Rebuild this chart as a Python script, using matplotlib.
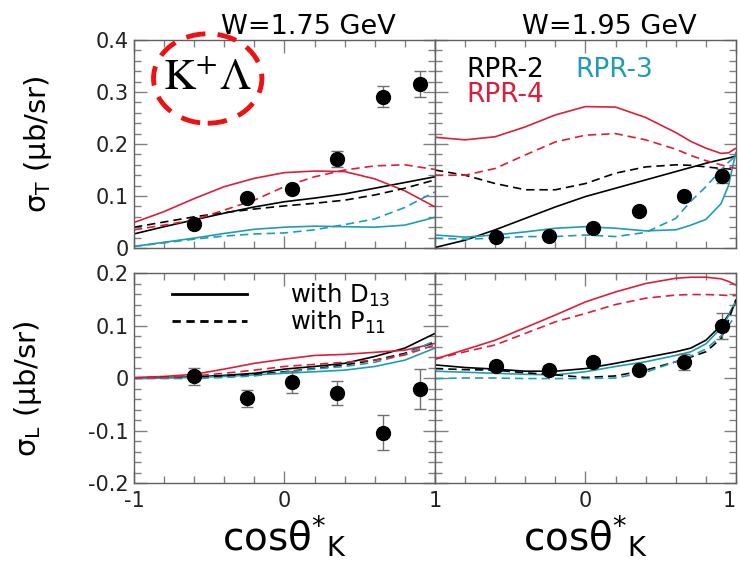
import numpy as np
import matplotlib
matplotlib.use('Agg')
import matplotlib.pyplot as plt
from matplotlib.patches import Ellipse
from matplotlib.lines import Line2D
from matplotlib.ticker import MultipleLocator

RED = '#dc1e3c'
CYAN = '#1f9db3'
BLACK = '#000000'

# model curves, sigma_T at W = 1.75 GeV
xT175 = [-1.0, -0.8, -0.6, -0.4, -0.2, 0.0, 0.2, 0.4, 0.6, 0.8, 1.0]
T175_rpr4_d13 = [0.049, 0.070, 0.095, 0.118, 0.134, 0.145, 0.148, 0.147, 0.133, 0.110, 0.079]
T175_rpr4_p11 = [0.035, 0.044, 0.054, 0.073, 0.092, 0.118, 0.137, 0.150, 0.158, 0.160, 0.151]
T175_rpr2_d13 = [0.027, 0.041, 0.054, 0.067, 0.079, 0.089, 0.096, 0.104, 0.115, 0.126, 0.137]
T175_rpr2_p11 = [0.040, 0.050, 0.060, 0.068, 0.075, 0.081, 0.086, 0.092, 0.102, 0.115, 0.131]
T175_rpr3_d13 = [0.003, 0.011, 0.019, 0.028, 0.036, 0.040, 0.042, 0.041, 0.040, 0.044, 0.059]
T175_rpr3_p11 = [0.003, 0.010, 0.017, 0.023, 0.027, 0.029, 0.035, 0.045, 0.056, 0.078, 0.108]

# sigma_T at W = 1.95 GeV
xT195 = [-1.0, -0.8, -0.6, -0.4, -0.2, 0.0, 0.2, 0.4, 0.6, 0.7, 0.8, 0.9, 0.95, 1.0]
T195_rpr4_d13 = [0.213, 0.208, 0.214, 0.233, 0.256, 0.272, 0.271, 0.251, 0.222, 0.205, 0.192, 0.182, 0.183, 0.192]
T195_rpr4_p11 = [0.140, 0.140, 0.153, 0.179, 0.204, 0.217, 0.220, 0.208, 0.190, 0.178, 0.168, 0.160, 0.156, 0.153]
T195_rpr2_d13 = [0.001, 0.015, 0.035, 0.057, 0.079, 0.099, 0.115, 0.131, 0.147, 0.155, 0.163, 0.170, 0.173, 0.177]
T195_rpr2_p11 = [0.150, 0.140, 0.124, 0.112, 0.112, 0.124, 0.144, 0.156, 0.160, 0.159, 0.156, 0.153, 0.152, 0.151]
T195_rpr3_d13 = [0.025, 0.021, 0.025, 0.031, 0.038, 0.041, 0.038, 0.033, 0.035, 0.044, 0.055, 0.085, 0.120, 0.185]
T195_rpr3_p11 = [0.019, 0.017, 0.019, 0.022, 0.022, 0.025, 0.022, 0.030, 0.057, 0.090, 0.118, 0.150, 0.165, 0.178]

# sigma_L at W = 1.75 GeV
xL175 = [-1.0, -0.8, -0.6, -0.4, -0.2, 0.0, 0.2, 0.4, 0.6, 0.8, 1.0]
L175_rpr4_d13 = [0.001, 0.003, 0.007, 0.017, 0.028, 0.036, 0.043, 0.045, 0.049, 0.053, 0.066]
L175_rpr4_p11 = [0.000, 0.001, 0.004, 0.009, 0.015, 0.022, 0.026, 0.030, 0.034, 0.044, 0.063]
L175_rpr2_d13 = [0.000, 0.001, 0.002, 0.005, 0.009, 0.017, 0.022, 0.028, 0.041, 0.057, 0.085]
L175_rpr2_p11 = [0.000, 0.001, 0.002, 0.004, 0.007, 0.012, 0.018, 0.025, 0.034, 0.047, 0.069]
L175_rpr3_d13 = [-0.001, 0.000, 0.001, 0.003, 0.006, 0.009, 0.012, 0.015, 0.022, 0.034, 0.057]
L175_rpr3_p11 = [-0.001, -0.001, -0.001, 0.001, 0.004, 0.011, 0.017, 0.022, 0.030, 0.045, 0.071]

# sigma_L at W = 1.95 GeV
xL195 = [-1.0, -0.8, -0.6, -0.4, -0.2, 0.0, 0.2, 0.4, 0.6, 0.7, 0.8, 0.9, 0.95, 1.0]
L195_rpr4_d13 = [0.036, 0.054, 0.072, 0.096, 0.120, 0.145, 0.164, 0.180, 0.190, 0.192, 0.192, 0.189, 0.184, 0.177]
L195_rpr4_p11 = [0.036, 0.050, 0.063, 0.085, 0.107, 0.123, 0.140, 0.152, 0.158, 0.159, 0.159, 0.158, 0.157, 0.157]
L195_rpr2_d13 = [0.025, 0.020, 0.017, 0.013, 0.013, 0.018, 0.028, 0.039, 0.050, 0.057, 0.072, 0.100, 0.120, 0.145]
L195_rpr2_p11 = [0.018, 0.016, 0.015, 0.010, 0.006, 0.001, 0.004, 0.015, 0.031, 0.040, 0.050, 0.075, 0.110, 0.150]
L195_rpr3_d13 = [0.013, 0.011, 0.009, 0.007, 0.006, 0.012, 0.022, 0.031, 0.043, 0.050, 0.065, 0.095, 0.118, 0.148]
L195_rpr3_p11 = [-0.001, 0.000, 0.000, -0.001, -0.001, -0.001, 0.000, 0.011, 0.031, 0.042, 0.055, 0.080, 0.100, 0.120]

# CLAS data points
x175 = [-0.6, -0.25, 0.05, 0.35, 0.655, 0.9]
x195 = [-0.595, -0.245, 0.05, 0.355, 0.655, 0.905]
sT175 = [0.046, 0.097, 0.114, 0.171, 0.291, 0.316]
eT175 = [0.005, 0.006, 0.008, 0.015, 0.020, 0.025]
sT195 = [0.021, 0.023, 0.038, 0.071, 0.100, 0.138]
eT195 = [0.004, 0.004, 0.005, 0.006, 0.008, 0.013]
sL175 = [0.003, -0.039, -0.008, -0.028, -0.104, -0.021]
eL175 = [0.016, 0.017, 0.021, 0.023, 0.033, 0.038]
sL195 = [0.023, 0.015, 0.031, 0.015, 0.031, 0.099]
eL195 = [0.008, 0.008, 0.008, 0.008, 0.015, 0.025]

fig = plt.figure(figsize=(7.4, 5.67), dpi=100)
W = 0.4068
axTL = fig.add_axes([0.181, 0.5626, W, 0.3668])
axTR = fig.add_axes([0.5878, 0.5626, W, 0.3668])
axBL = fig.add_axes([0.181, 0.1481, W, 0.3704])
axBR = fig.add_axes([0.5878, 0.1481, W, 0.3704])

def curves(ax, x, d13s, p11s):
    for y, c in zip(d13s, [BLACK, CYAN, RED]):
        ax.plot(x, y, color=c, lw=1.2, solid_capstyle='butt')
    for y, c in zip(p11s, [BLACK, CYAN, RED]):
        ax.plot(x, y, color=c, lw=1.2, dashes=(5, 3))

def points(ax, x, y, e):
    ax.errorbar(x, y, yerr=e, fmt='o', color='black', ms=10,
                ecolor='#707070', elinewidth=1.0, capsize=4, capthick=1.0, zorder=5)

curves(axTL, xT175, [T175_rpr2_d13, T175_rpr3_d13, T175_rpr4_d13],
       [T175_rpr2_p11, T175_rpr3_p11, T175_rpr4_p11])
curves(axTR, xT195, [T195_rpr2_d13, T195_rpr3_d13, T195_rpr4_d13],
       [T195_rpr2_p11, T195_rpr3_p11, T195_rpr4_p11])
curves(axBL, xL175, [L175_rpr2_d13, L175_rpr3_d13, L175_rpr4_d13],
       [L175_rpr2_p11, L175_rpr3_p11, L175_rpr4_p11])
curves(axBR, xL195, [L195_rpr2_d13, L195_rpr3_d13, L195_rpr4_d13],
       [L195_rpr2_p11, L195_rpr3_p11, L195_rpr4_p11])
points(axTL, x175, sT175, eT175)
points(axTR, x195, sT195, eT195)
points(axBL, x175, sL175, eL175)
points(axBR, x195, sL195, eL195)

for ax in [axTL, axTR, axBL, axBR]:
    ax.set_xlim(-1, 1)
    ax.xaxis.set_minor_locator(MultipleLocator(0.2))
    ax.yaxis.set_minor_locator(MultipleLocator(0.02))
    ax.tick_params(which='both', direction='in', top=True, right=True,
                   color='#808080', labelsize=15, labelcolor='#222222')
    ax.tick_params(which='major', length=9, width=1.0)
    ax.tick_params(which='minor', length=5, width=1.0)
    for s in ax.spines.values():
        s.set_color('#606060')
        s.set_linewidth(1.0)

def fmt(v):
    return '%g' % v

for ax in [axTL, axTR]:
    ax.set_ylim(0, 0.4)
    ax.set_xticks([-1, 0, 1], ['', '', ''])
for ax in [axBL, axBR]:
    ax.set_ylim(-0.2, 0.2)
ty = [0, 0.1, 0.2, 0.3, 0.4]
by = [-0.2, -0.1, 0, 0.1, 0.2]
axTL.set_yticks(ty, [fmt(v) for v in ty])
axTR.set_yticks(ty, ['' for v in ty])
axBL.set_yticks(by, [fmt(v) for v in by])
axBR.set_yticks(by, ['' for v in by])
axBL.set_xticks([-1, 0, 1], ['-1', '0', '1'])
axBR.set_xticks([-1, 0, 1], ['', '0', '1'])
axBL.tick_params(axis='x', pad=6)
axBR.tick_params(axis='x', pad=6)
# keep the last label inside the figure edge
axBR.get_xticklabels()[-1].set_horizontalalignment('right')

axTL.set_title('W=1.75 GeV', fontsize=19.5, x=0.58, pad=4)
axTR.set_title('W=1.95 GeV', fontsize=19.5, x=0.58, pad=4)

axTL.set_ylabel(r'σ$_\mathrm{T}$ (μb/sr)', fontsize=21)
axTL.yaxis.set_label_coords(-0.265, 0.5)
axBL.set_ylabel(r'σ$_\mathrm{L}$ (μb/sr)', fontsize=21)
axBL.yaxis.set_label_coords(-0.3, 0.45)

xl = r'cosθ$^{*}{}_{\mathrm{K}}$'
axBL.set_xlabel(xl, fontsize=28, labelpad=2)
axBR.set_xlabel(xl, fontsize=28, labelpad=2)

# reaction label with dashed ring
axTL.text(0.243, 0.82, r'$\mathrm{K}^{+}\Lambda$', transform=axTL.transAxes,
          fontsize=32, ha='center', va='center', math_fontfamily='stix')
axTL.add_patch(Ellipse((-0.51, 0.326), 0.72, 0.172, fill=False, edgecolor='#ee1111',
                       lw=3.5, linestyle=(0, (4, 2.5)), clip_on=False, zorder=6))

# model labels
axTR.text(0.103, 0.856, 'RPR-2', color=BLACK, fontsize=19, transform=axTR.transAxes, va='center')
axTR.text(0.468, 0.856, 'RPR-3', color=CYAN, fontsize=19, transform=axTR.transAxes, va='center')
axTR.text(0.103, 0.736, 'RPR-4', color=RED, fontsize=19, transform=axTR.transAxes, va='center')

handles = [Line2D([], [], color='black', lw=2.0),
           Line2D([], [], color='black', lw=2.0, dashes=(3, 2))]
axBL.legend(handles, [r'with D$_{13}$', r'with P$_{11}$'], loc='upper left',
            bbox_to_anchor=(0.126, 0.96), frameon=False, fontsize=17.5,
            handlelength=3.1, handletextpad=1.75, borderpad=0, borderaxespad=0,
            labelspacing=0.0)

fig.savefig('out.png', dpi=100)
